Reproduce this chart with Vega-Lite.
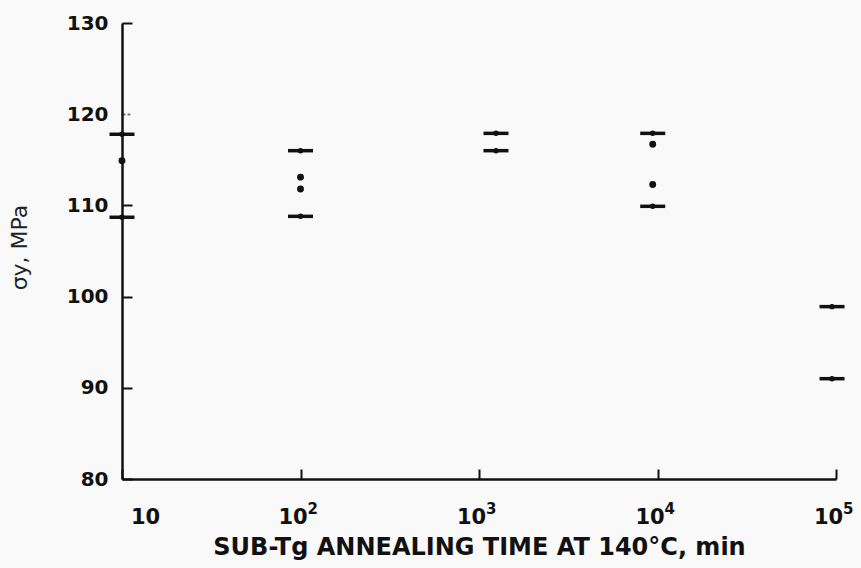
{
  "$schema": "https://vega.github.io/schema/vega-lite/v6.json",
  "autosize": "none",
  "width": 714,
  "height": 456,
  "padding": {"left": 122, "top": 23, "right": 25, "bottom": 89},
  "background": "#f9f9f9",
  "config": {"view": {"stroke": null}, "font": "DejaVu Sans"},
  "layer": [
    {
      "data": {
        "values": [
          {"t": 10, "s": 117.8, "kind": "bar"},
          {"t": 10, "s": 108.7, "kind": "bar"},
          {"t": 100, "s": 116.0, "kind": "bar"},
          {"t": 100, "s": 108.8, "kind": "bar"},
          {"t": 1245, "s": 117.9, "kind": "bar"},
          {"t": 1245, "s": 116.0, "kind": "bar"},
          {"t": 9400, "s": 117.9, "kind": "bar"},
          {"t": 9400, "s": 109.9, "kind": "bar"},
          {"t": 95000, "s": 98.9, "kind": "bar"},
          {"t": 95000, "s": 91.0, "kind": "bar"},
          {"t": 10, "s": 114.9, "kind": "dot"},
          {"t": 100, "s": 113.1, "kind": "dot"},
          {"t": 100, "s": 111.8, "kind": "dot"},
          {"t": 9400, "s": 116.7, "kind": "dot"},
          {"t": 9400, "s": 112.3, "kind": "dot"}
        ]
      },
      "encoding": {
        "x": {
          "field": "t",
          "type": "quantitative",
          "scale": {"type": "log", "domain": [10, 100000]},
          "axis": {
            "title": "SUB-Tg ANNEALING TIME AT 140°C, min",
            "values": [10, 100, 1000, 10000, 100000],
            "labelExpr": "'10'",
            "grid": false,
            "tickSize": -10,
            "tickWidth": 2,
            "tickColor": "#111",
            "domainColor": "#111",
            "domainWidth": 2.5,
            "labelFont": "DejaVu Sans",
            "labelFontSize": 21,
            "labelFontWeight": "bold",
            "labelColor": "#111",
            "labelPadding": 37,
            "labelFlush": false,
            "labelOffset": {"condition": {"test": "datum.value == 10", "value": 23}, "value": -8},
            "titleFont": "DejaVu Sans",
            "titleFontSize": 24,
            "titleFontWeight": "bold",
            "titleColor": "#111",
            "titleBaseline": "top",
            "titleY": 56
          }
        },
        "y": {
          "field": "s",
          "type": "quantitative",
          "scale": {"domain": [80, 130], "zero": false},
          "axis": {
            "title": "σy, MPa",
            "values": [80, 90, 100, 110, 120, 130],
            "grid": false,
            "tickSize": -10,
            "tickWidth": 2,
            "tickColor": {"condition": {"test": "datum.value == 120", "value": "#777"}, "value": "#111"},
            "tickDash": {"condition": {"test": "datum.value == 120", "value": [3, 2]}, "value": []},
            "domainColor": "#111",
            "domainWidth": 2.5,
            "labelFont": "DejaVu Sans",
            "labelFontSize": 20,
            "labelFontWeight": "bold",
            "labelColor": "#111",
            "labelPadding": 24,
            "labelFlush": false,
            "titleFont": "DejaVu Sans",
            "titleFontSize": 22,
            "titleFontWeight": "normal",
            "titleColor": "#222",
            "titleBaseline": "middle",
            "titleX": -103,
            "titleY": 224
          }
        }
      },
      "layer": [
        {
          "transform": [{"filter": "datum.kind == 'bar'"}],
          "mark": {"type": "tick", "orient": "horizontal", "size": 25, "thickness": 3.5, "color": "#111", "opacity": 1}
        },
        {
          "mark": {"type": "circle", "color": "#111", "opacity": 1},
          "encoding": {
            "size": {"condition": {"test": "datum.kind == 'dot'", "value": 48}, "value": 30}
          }
        }
      ]
    },
    {
      "data": {
        "values": [
          {"t": 100, "exp": "2"},
          {"t": 1000, "exp": "3"},
          {"t": 10000, "exp": "4"},
          {"t": 100000, "exp": "5"}
        ]
      },
      "mark": {"type": "text", "font": "DejaVu Sans", "fontSize": 15, "fontWeight": "bold", "color": "#111", "align": "left", "baseline": "top", "dx": 7, "dy": 23},
      "encoding": {
        "x": {"field": "t", "type": "quantitative"},
        "y": {"datum": 80, "type": "quantitative"},
        "text": {"field": "exp", "type": "nominal"}
      }
    }
  ]
}
